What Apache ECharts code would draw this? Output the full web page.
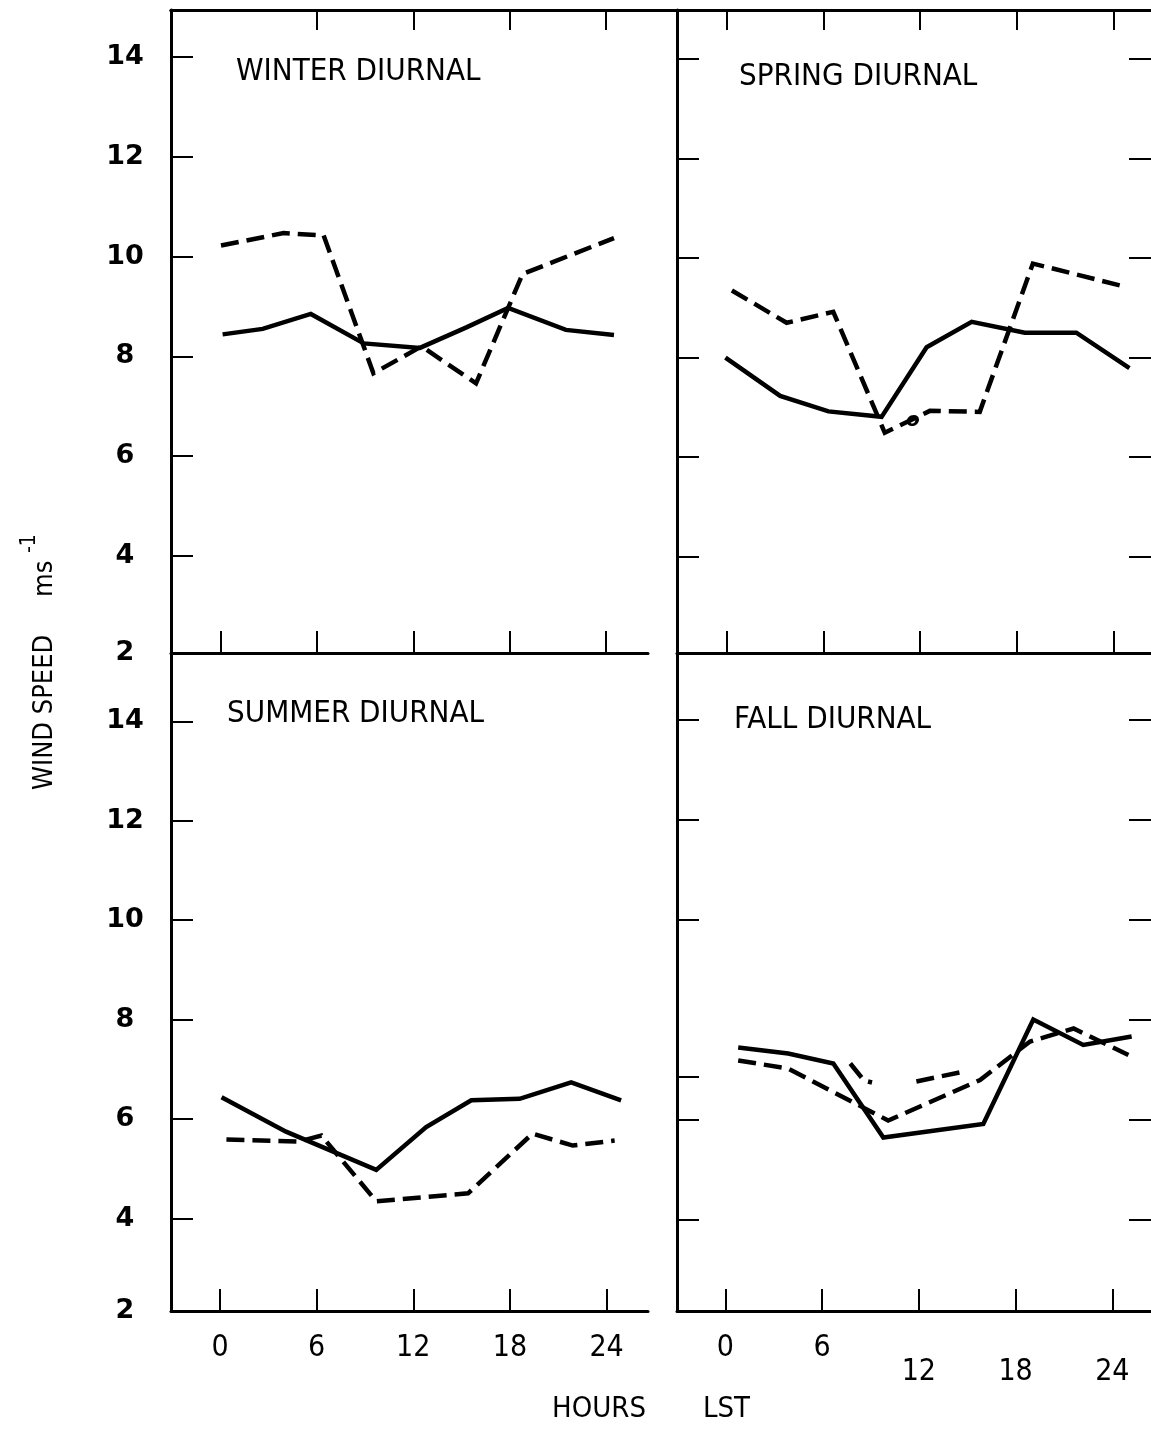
<!DOCTYPE html>
<html>
<head>
<meta charset="utf-8">
<script src="https://cdn.jsdelivr.net/npm/echarts@6/dist/echarts.min.js"></script>
<style>
  html, body { margin: 0; padding: 0; background: #fff; }
  #chart { width: 1151px; height: 1430px; }
</style>
</head>
<body>
<div id="chart"></div>
<script>
// Seasonal diurnal wind speed (m/s) against hour of day (LST).
// Each season has a solid curve and one or two dashed curves.

const hourTicks = [0, 6, 12, 18, 24];
const speedTicks = [4, 6, 8, 10, 12, 14];
const speedLabels = [2, 4, 6, 8, 10, 12, 14];

// Winter
const winterSolidHours = [0.1, 2.6, 5.6, 8.9, 12.4, 15.3, 17.9, 21.5, 24.5];
const winterSolidSpeed = [8.44, 8.55, 8.85, 8.26, 8.17, 8.58, 8.97, 8.53, 8.43];
const winterDashHours = [0.0, 3.9, 6.4, 9.5, 12.5, 15.9, 18.8, 24.5];
const winterDashSpeed = [10.22, 10.47, 10.42, 7.66, 8.20, 7.46, 9.65, 10.37];

// Spring
const springSolidHours = [-0.1, 3.3, 6.3, 9.6, 12.4, 15.2, 18.5, 21.7, 25.0];
const springSolidSpeed = [8.0, 7.23, 6.92, 6.81, 8.21, 8.72, 8.50, 8.50, 7.79];
const springDashHours = [0.3, 3.7, 6.6, 9.8, 12.6, 15.7, 19.0, 24.8];
const springDashSpeed = [9.35, 8.70, 8.92, 6.49, 6.93, 6.91, 9.89, 9.42];

// Summer
const summerSolidHours = [0.1, 4.1, 9.7, 12.8, 15.6, 18.6, 21.8, 24.9];
const summerSolidSpeed = [6.44, 5.75, 4.98, 5.84, 6.38, 6.41, 6.74, 6.38];
const summerDashHours = [0.4, 4.9, 6.3, 9.7, 15.4, 19.4, 21.9, 24.5];
const summerDashSpeed = [5.59, 5.55, 5.67, 4.35, 4.51, 5.71, 5.47, 5.57];

// Fall
const fallSolidHours = [0.8, 3.9, 6.7, 9.8, 16.0, 19.1, 22.2, 25.2];
const fallSolidSpeed = [7.45, 7.33, 7.13, 5.65, 5.92, 8.01, 7.50, 7.67];
const fallDashHours = [0.8, 3.9, 10.1, 15.8, 18.9, 21.6, 25.0];
const fallDashSpeed = [7.19, 7.03, 5.99, 6.80, 7.57, 7.83, 7.30];
const fallDash2aHours = [7.75, 8.6, 9.1];
const fallDash2aSpeed = [7.13, 6.79, 6.75];
const fallDash2bHours = [11.85, 14.8];
const fallDash2bSpeed = [6.77, 6.97];
const fallLeftTicks = [4, 6, 6.87, 10, 12, 14];

const titles = ['WINTER DIURNAL', 'SPRING DIURNAL', 'SUMMER DIURNAL', 'FALL DIURNAL'];

const pairs = (h, v) => h.map((x, i) => [x, v[i]]);

const NARROW = "'Liberation Sans Narrow', 'DejaVu Sans Condensed', 'Roboto Condensed', 'Liberation Sans', sans-serif";
const DIGITS = "'DejaVu Sans', sans-serif";
const INK = '#000';

// panel geometry and axis extents
const panels = [
  { left: 171, top: 10,  width: 477, height: 643, xMin: -3.117, xMax: 26.62, yMin: 2.056, yMax: 14.94 },
  { left: 677, top: 10,  width: 478, height: 643, xMin: -3.11,  xMax: 26.34, yMin: 2.065, yMax: 14.985 },
  { left: 171, top: 653, width: 477, height: 658, xMin: -3.04,  xMax: 26.57, yMin: 2.144, yMax: 15.373 },
  { left: 677, top: 653, width: 478, height: 658, xMin: -2.995, xMax: 26.40, yMin: 2.18,  yMax: 15.34 }
];

const grid = panels.map(p => ({ left: p.left, top: p.top, width: p.width, height: p.height, containLabel: false }));
// outer frame: continuous top border
grid.push({ left: 171, top: 10, width: 980, height: 1301 });

const lineAx = { show: true, onZero: false, lineStyle: { color: INK, width: 3 } };
const hiddenLine = { show: false, onZero: false };
const noAx = { show: false };

function xAxisFor(i, position, opts) {
  const p = panels[i];
  return Object.assign({
    type: 'value', gridIndex: i, position: position, min: p.xMin, max: p.xMax,
    splitLine: { show: false },
    axisLine: lineAx,
    axisTick: { show: true, inside: true, length: 22, lineStyle: { color: INK, width: 2 } },
    axisLabel: { show: false }
  }, opts || {});
}
function yAxisFor(i, position, opts) {
  const p = panels[i];
  return Object.assign({
    type: 'value', gridIndex: i, position: position, min: p.yMin, max: p.yMax,
    splitLine: { show: false },
    axisLine: lineAx,
    axisTick: { show: true, inside: true, length: 22, customValues: speedTicks, lineStyle: { color: INK, width: 2 } },
    axisLabel: { show: false }
  }, opts || {});
}

const bottomLabel = {
  show: true, customValues: hourTicks, margin: 22, color: INK,
  fontFamily: NARROW, fontSize: 30
};

const xAxis = [
  // 0: winter bottom
  xAxisFor(0, 'bottom', { axisTick: { show: true, inside: true, length: 22, customValues: hourTicks, lineStyle: { color: INK, width: 2 } } }),
  // 1: winter top
  xAxisFor(0, 'top', { axisTick: { show: true, inside: true, length: 20, customValues: [6, 12, 18, 24], lineStyle: { color: INK, width: 2 } } }),
  // 2: spring bottom
  xAxisFor(1, 'bottom', { axisTick: { show: true, inside: true, length: 22, customValues: hourTicks, lineStyle: { color: INK, width: 2 } } }),
  // 3: spring top
  xAxisFor(1, 'top', { axisTick: { show: true, inside: true, length: 20, customValues: hourTicks, lineStyle: { color: INK, width: 2 } } }),
  // 4: summer bottom, labelled
  xAxisFor(2, 'bottom', {
    axisTick: { show: true, inside: true, length: 22, customValues: hourTicks, lineStyle: { color: INK, width: 2 } },
    axisLabel: bottomLabel
  }),
  // 5: fall bottom, labelled (later hours set lower)
  xAxisFor(3, 'bottom', {
    axisTick: { show: true, inside: true, length: 22, customValues: hourTicks, lineStyle: { color: INK, width: 2 } },
    axisLabel: Object.assign({}, bottomLabel, {
      formatter: v => (v >= 12 ? '{lo|' + v + '}' : '{hi|' + v + '}'),
      rich: {
        hi: { fontFamily: NARROW, fontSize: 30, color: INK },
        lo: { fontFamily: NARROW, fontSize: 30, color: INK, padding: [24, 0, 0, 0] }
      }
    })
  }),
  // 6: frame top border
  { type: 'value', gridIndex: 4, position: 'top', min: 0, max: 1, axisLine: lineAx, axisTick: noAx, axisLabel: noAx, splitLine: noAx }
];

const leftLabel = (i) => ({
  show: true,
  customValues: speedLabels.map(v => Math.max(v, panels[i].yMin)),
  formatter: v => String(Math.round(v)),
  margin: 46, align: 'center', color: INK,
  fontFamily: DIGITS, fontWeight: 'bold', fontSize: 27
});

const yAxis = [
  // 0: winter left, labelled
  yAxisFor(0, 'left', { axisLabel: leftLabel(0) }),
  // 1: spring left
  yAxisFor(1, 'left'),
  // 2: spring right (ticks only)
  yAxisFor(1, 'right', { axisLine: hiddenLine }),
  // 3: summer left, labelled
  yAxisFor(2, 'left', { axisLabel: leftLabel(2) }),
  // 4: fall left (note extra tick)
  yAxisFor(3, 'left', { axisTick: { show: true, inside: true, length: 22, customValues: fallLeftTicks, lineStyle: { color: INK, width: 2 } } }),
  // 5: fall right (ticks only)
  yAxisFor(3, 'right', { axisLine: hiddenLine }),
  // 6: frame
  { type: 'value', gridIndex: 4, min: 0, max: 1, axisLine: hiddenLine, axisTick: noAx, axisLabel: noAx, splitLine: noAx }
];

const solid = { color: INK, width: 4.5, type: 'solid', join: 'miter' };
const dashed = { color: INK, width: 4.5, type: [18, 8], cap: 'butt', join: 'miter' };

function line(xi, yi, data, style, extra) {
  return Object.assign({
    type: 'line', xAxisIndex: xi, yAxisIndex: yi, data: data,
    symbol: 'none', showSymbol: false, silent: true, animation: false,
    lineStyle: style, z: 3
  }, extra || {});
}

const series = [
  line(0, 0, pairs(winterSolidHours, winterSolidSpeed), solid),
  line(0, 0, pairs(winterDashHours, winterDashSpeed), dashed),
  line(2, 1, pairs(springSolidHours, springSolidSpeed), solid),
  line(2, 1, pairs(springDashHours, springDashSpeed), dashed, {
    markPoint: {
      symbol: 'circle', symbolSize: 0, silent: true, animation: false,
      data: [{ coord: [11.55, 6.73], value: 'o' }],
      label: { show: true, position: 'inside', formatter: 'o', color: INK, fontFamily: DIGITS, fontStyle: 'italic', fontWeight: 'bold', fontSize: 20 }
    }
  }),
  line(4, 3, pairs(summerSolidHours, summerSolidSpeed), solid),
  line(4, 3, pairs(summerDashHours, summerDashSpeed), dashed),
  line(5, 4, pairs(fallSolidHours, fallSolidSpeed), solid),
  line(5, 4, pairs(fallDashHours, fallDashSpeed), dashed),
  line(5, 4, pairs(fallDash2aHours, fallDash2aSpeed), dashed),
  line(5, 4, pairs(fallDash2bHours, fallDash2bSpeed), dashed)
];

const titleStyle = { color: INK, fontFamily: NARROW, fontSize: 31, fontWeight: 'normal' };
const title = [
  { text: titles[0], left: 231, top: 51, textStyle: titleStyle },
  { text: titles[1], left: 734, top: 56, textStyle: titleStyle },
  { text: titles[2], left: 222, top: 693, textStyle: titleStyle },
  { text: titles[3], left: 729, top: 699, textStyle: titleStyle }
];

const graphic = [
  { type: 'text', left: 552, top: 1395, style: { text: 'HOURS', fill: INK, font: "29px " + NARROW } },
  { type: 'text', left: 703, top: 1395, style: { text: 'LST', fill: INK, font: "29px " + NARROW } },
  { type: 'text', x: 31, y: 790, rotation: Math.PI / 2, style: { text: 'WIND SPEED', fill: INK, font: "27px " + NARROW, textAlign: 'left', textVerticalAlign: 'top' } },
  { type: 'text', x: 31, y: 597, rotation: Math.PI / 2, style: { text: 'ms', fill: INK, font: "27px " + NARROW, textAlign: 'left', textVerticalAlign: 'top' } },
  { type: 'text', x: 19, y: 553, rotation: Math.PI / 2, style: { text: '-1', fill: INK, font: "21px " + NARROW, textAlign: 'left', textVerticalAlign: 'top' } }
];

const chart = echarts.init(document.getElementById('chart'), null, { renderer: 'canvas' });
chart.setOption({
  backgroundColor: '#fff',
  animation: false,
  title: title,
  grid: grid,
  xAxis: xAxis,
  yAxis: yAxis,
  series: series,
  graphic: graphic
});
</script>
</body>
</html>
